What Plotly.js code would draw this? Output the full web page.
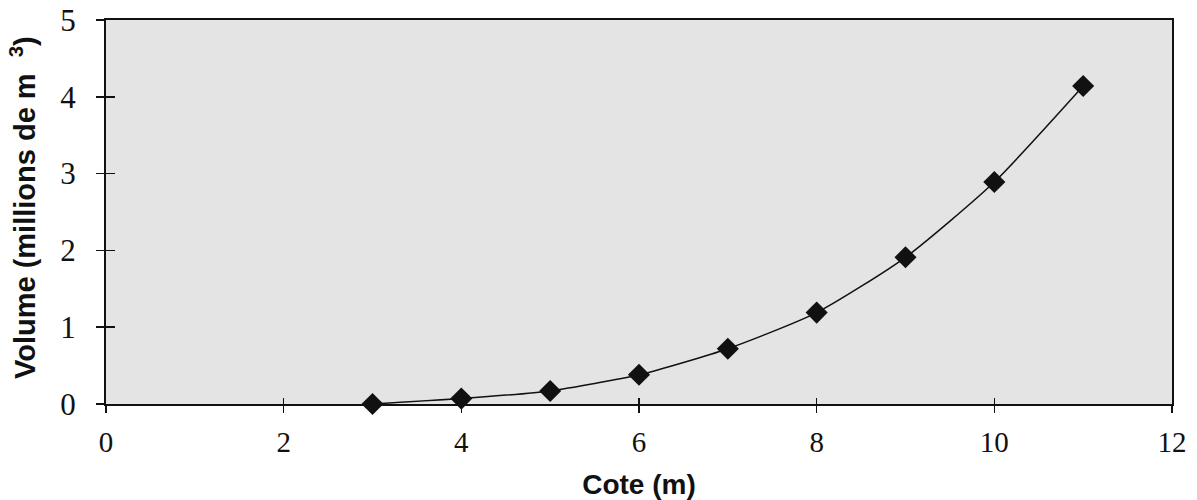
<!DOCTYPE html>
<html><head><meta charset="utf-8">
<script src="https://cdn.plot.ly/plotly-3.0.1.min.js"></script>
<style>body{margin:0;background:#fff}</style>
</head><body>
<div id="chart" style="width:1197px;height:500px"></div>
<script>
const cote = [3, 4, 5, 6, 7, 8, 9, 10, 11];
const volume = [0, 0.07, 0.17, 0.38, 0.72, 1.19, 1.91, 2.89, 4.14];
const xTicks = [0, 2, 4, 6, 8, 10, 12];
const yTicks = [0, 1, 2, 3, 4, 5];
const xTitle = 'Cote (m)';
const yTitle = 'Volume (millions de m  <sup>3</sup>)';

const serif = 'Liberation Serif, serif';
const sans = 'Liberation Sans, sans-serif';

Plotly.newPlot('chart', [{
  x: cote, y: volume, type: 'scatter', mode: 'lines+markers',
  line: {color: '#111', width: 1.5, shape: 'spline', smoothing: 0.6},
  marker: {symbol: 'diamond', size: 17, color: '#111'},
  cliponaxis: false
}, {
  x: cote, y: volume, xaxis: 'x2', yaxis: 'y2', type: 'scatter', mode: 'none',
  hoverinfo: 'skip'
}], {
  width: 1197, height: 500,
  margin: {l: 106, r: 25, t: 20, b: 96},
  paper_bgcolor: '#fff', plot_bgcolor: '#e4e4e4',
  showlegend: false,
  xaxis: {
    range: [0, 12], tickvals: xTicks, ticks: 'outside', ticklen: 7, tickwidth: 1.5, tickcolor: '#111',
    showgrid: false, zeroline: false, showline: true, linecolor: '#111', linewidth: 2, mirror: true,
    tickfont: {family: serif, size: 29, color: '#111'},
    ticklabelstandoff: 4,
    title: {text: xTitle, font: {family: sans, size: 28, color: '#111', weight: 'bold'}, standoff: 18}
  },
  yaxis: {
    range: [0, 5], tickvals: yTicks, ticks: 'outside', ticklen: 8, tickwidth: 1.5, tickcolor: '#111',
    showgrid: false, zeroline: false, showline: true, linecolor: '#111', linewidth: 2, mirror: true,
    tickfont: {family: serif, size: 31, color: '#111'},
    ticklabelstandoff: 14
  },
  xaxis2: {
    overlaying: 'x', range: [0, 12], tickvals: xTicks, ticks: 'inside', ticklen: 6, tickwidth: 1.5, tickcolor: '#111',
    showticklabels: false, showgrid: false, zeroline: false, showline: false
  },
  yaxis2: {
    overlaying: 'y', range: [0, 5], tickvals: yTicks, ticks: 'inside', ticklen: 9, tickwidth: 1.5, tickcolor: '#111',
    showticklabels: false, showgrid: false, zeroline: false, showline: false
  },
  annotations: [{
    text: yTitle, textangle: -90, showarrow: false,
    xref: 'paper', yref: 'paper', x: (23 - 106) / 1066, y: (404 - 208) / 384,
    xanchor: 'center', yanchor: 'middle',
    font: {family: sans, size: 29, color: '#111', weight: 'bold'}
  }]
}, {displayModeBar: false, staticPlot: true});
</script>
</body></html>
